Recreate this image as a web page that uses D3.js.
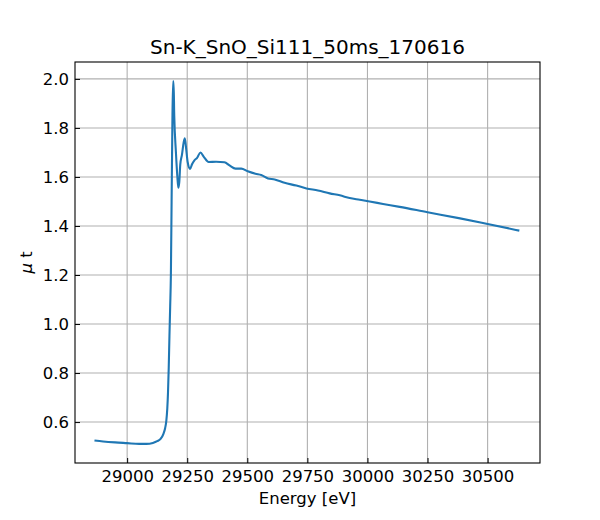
<!DOCTYPE html>
<html>
<head>
<meta charset="utf-8">
<script src="https://cdn.jsdelivr.net/npm/d3@7"></script>
<style>
  body { margin: 0; background: #fff; }
  svg { font-family: "DejaVu Sans", sans-serif; }
</style>
</head>
<body>
<div id="chart"></div>
<script>
// energy (eV) and absorption values
const energy = [28864, 28900, 28950, 29000, 29050, 29080, 29107, 29125, 29140, 29151,
    29158, 29163, 29167, 29170, 29173, 29176, 29179, 29182, 29185, 29188,
    29191, 29193, 29196, 29203, 29209, 29213, 29217, 29221, 29228, 29235,
    29240, 29245, 29252, 29262, 29270, 29280, 29291, 29305, 29319, 29339,
    29370, 29405, 29426, 29451, 29475, 29502, 29534, 29558, 29586, 29614,
    29655, 29704, 29746, 29794, 29843, 29885, 29926, 29968, 30009, 30065,
    30134, 30250, 30380, 30500, 30632]
const mu = [0.525, 0.521, 0.517, 0.514, 0.511, 0.511, 0.515, 0.522, 0.532, 0.552,
    0.575, 0.605, 0.655, 0.72, 0.82, 0.95, 1.07, 1.2, 1.50, 1.80,
    1.99, 1.99, 1.85, 1.70, 1.60, 1.556, 1.58, 1.65, 1.69, 1.74,
    1.758, 1.72, 1.66, 1.633, 1.652, 1.668, 1.678, 1.700, 1.682, 1.661,
    1.662, 1.660, 1.647, 1.634, 1.634, 1.623, 1.613, 1.608, 1.594, 1.590,
    1.576, 1.565, 1.553, 1.545, 1.533, 1.525, 1.514, 1.507, 1.500, 1.490,
    1.478, 1.456, 1.432, 1.408, 1.381]
const xTicks = [29000, 29250, 29500, 29750, 30000, 30250, 30500]
const yTicks = [0.6, 0.8, 1.0, 1.2, 1.4, 1.6, 1.8, 2.0]

const width = 600
const height = 520
const margin = { top: 62, bottom: 57, left: 75, right: 60 }

const svg = d3.select('#chart')
    .append('svg')
    .attr('width', width)
    .attr('height', height)

const x = d3.scaleLinear()
    .domain([28783, 30718])
    .range([margin.left, width - margin.right])

const y = d3.scaleLinear()
    .domain([0.433, 2.069])
    .range([height - margin.bottom, margin.top])

// grid
svg.append('g')
    .selectAll('line')
    .data(xTicks)
    .join('line')
        .attr('x1', d => x(d)).attr('x2', d => x(d))
        .attr('y1', margin.top).attr('y2', height - margin.bottom)
        .attr('stroke', '#b0b0b0')
        .attr('stroke-width', 1.1)

svg.append('g')
    .selectAll('line')
    .data(yTicks)
    .join('line')
        .attr('y1', d => y(d)).attr('y2', d => y(d))
        .attr('x1', margin.left).attr('x2', width - margin.right)
        .attr('stroke', '#b0b0b0')
        .attr('stroke-width', 1.1)

const line = d3.line()
    .x((d, i) => x(energy[i]))
    .y(d => y(d))
    .curve(d3.curveMonotoneX)

svg.append('path')
    .datum(mu)
    .attr('d', line)
    .attr('fill', 'none')
    .attr('stroke', '#1f77b4')
    .attr('stroke-width', 2.1)
    .attr('stroke-linejoin', 'round')

function xAxis(g) {
    g.attr('transform', `translate(0,${height - margin.bottom})`)
        .call(d3.axisBottom(x).tickValues(xTicks).tickFormat(d3.format('d'))
            .tickSizeInner(-5).tickSizeOuter(0).tickPadding(7))
        .attr('font-size', '16.5px')
        .attr('font-family', 'DejaVu Sans')
    g.select('.domain').remove()
    g.selectAll('.tick text').attr('fill', '#000')
}

function yAxis(g) {
    g.attr('transform', `translate(${margin.left},0)`)
        .call(d3.axisLeft(y).tickValues(yTicks).tickFormat(d3.format('.1f'))
            .tickSizeInner(-5).tickSizeOuter(0).tickPadding(6))
        .attr('font-size', '16.5px')
        .attr('font-family', 'DejaVu Sans')
    g.select('.domain').remove()
    g.selectAll('.tick text').attr('fill', '#000')
}

svg.append('g').call(xAxis)
svg.append('g').call(yAxis)

// frame
svg.append('rect')
    .attr('x', margin.left).attr('y', margin.top)
    .attr('width', width - margin.left - margin.right)
    .attr('height', height - margin.top - margin.bottom)
    .attr('fill', 'none')
    .attr('stroke', '#000')
    .attr('stroke-width', 1.1)

svg.append('text')
    .attr('x', (margin.left + width - margin.right) / 2)
    .attr('y', 54)
    .attr('text-anchor', 'middle')
    .attr('font-size', '20px')
    .text('Sn-K_SnO_Si111_50ms_170616')

svg.append('text')
    .attr('x', (margin.left + width - margin.right) / 2)
    .attr('y', 504)
    .attr('text-anchor', 'middle')
    .attr('font-size', '16.5px')
    .text('Energy [eV]')

const yl = svg.append('text')
    .attr('transform', `translate(32,${(margin.top + height - margin.bottom) / 2}) rotate(-90)`)
    .attr('text-anchor', 'middle')
    .attr('font-size', '16.5px')
yl.append('tspan').attr('font-style', 'italic').text('μ')
yl.append('tspan').text(' t')
</script>
</body>
</html>
